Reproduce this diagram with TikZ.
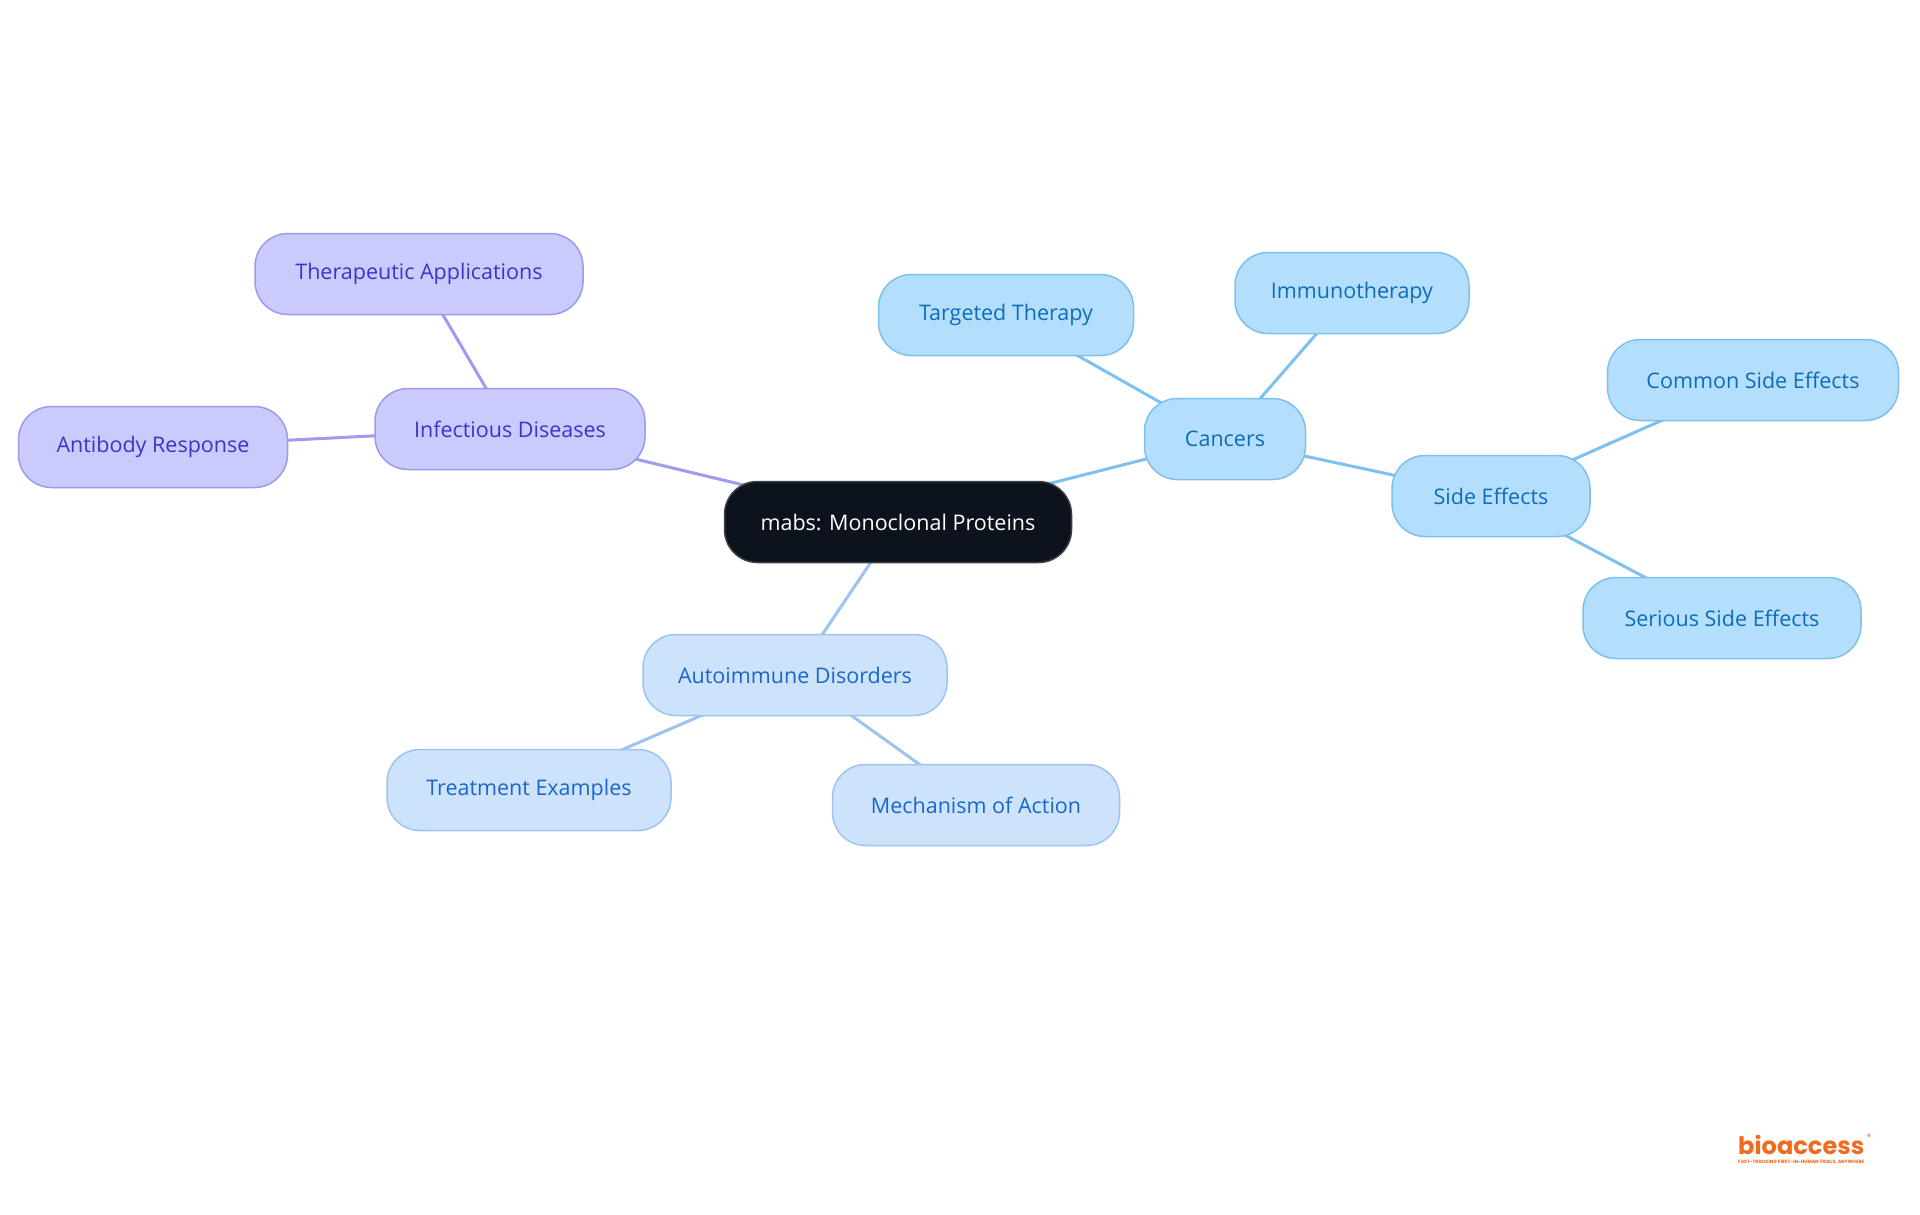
\documentclass[tikz,border=0pt]{standalone}
\usepackage{fontspec}
\setmainfont{Open Sans}
\newfontfamily\logofont{Poppins}
\usetikzlibrary{backgrounds}
\definecolor{rootfill}{HTML}{0D131C}
\definecolor{purfill}{HTML}{CACAFC}
\definecolor{purdraw}{HTML}{9B9BEE}
\definecolor{purtext}{HTML}{3A35C9}
\definecolor{purline}{HTML}{9C9CF0}
\definecolor{bluefill}{HTML}{B3DFFD}
\definecolor{bluedraw}{HTML}{7DC0EE}
\definecolor{bluetext}{HTML}{0F6CB8}
\definecolor{blueline}{HTML}{7EC1F0}
\definecolor{lbfill}{HTML}{CDE3FB}
\definecolor{lbdraw}{HTML}{9DC3EE}
\definecolor{lbtext}{HTML}{1A66CC}
\definecolor{lbline}{HTML}{9DC3EE}
\definecolor{logoorange}{HTML}{F26A1B}
\tikzset{
  x=1pt,y=-1pt,
  pill/.style={rounded corners=33pt, minimum height=81pt, inner sep=0pt, line width=1.5pt,
     font=\fontsize{21.5}{25}\selectfont},
  rootnode/.style={pill, fill=rootfill, draw=rootfill!80!white, text=white},
  purnode/.style={pill, fill=purfill, draw=purdraw, text=purtext},
  bluenode/.style={pill, fill=bluefill, draw=bluedraw, text=bluetext},
  lbnode/.style={pill, fill=lbfill, draw=lbdraw, text=lbtext},
  edge/.style={line width=3pt}
}
\begin{document}
\begin{tikzpicture}
\useasboundingbox (0,0) rectangle (1920,1215);
\node[rootnode, minimum width=347pt] (root) at (898,522) {mabs: Monoclonal Proteins};
\node[purnode, minimum width=270pt] (inf) at (510,429) {Infectious Diseases};
\node[purnode, minimum width=328pt] (ther) at (419,274) {Therapeutic Applications};
\node[purnode, minimum width=269pt] (anti) at (153,447) {Antibody Response};
\node[bluenode, minimum width=161pt] (canc) at (1225,439) {Cancers};
\node[bluenode, minimum width=255pt] (targ) at (1006,315) {Targeted Therapy};
\node[bluenode, minimum width=234pt] (immu) at (1352,293) {Immunotherapy};
\node[bluenode, minimum width=198pt] (side) at (1491,496) {Side Effects};
\node[bluenode, minimum width=291pt] (comm) at (1753,380) {Common Side Effects};
\node[bluenode, minimum width=278pt] (seri) at (1722,618) {Serious Side Effects};
\node[lbnode, minimum width=304pt] (auto) at (795,675) {Autoimmune Disorders};
\node[lbnode, minimum width=284pt] (trea) at (529,790) {Treatment Examples};
\node[lbnode, minimum width=287pt] (mech) at (976,805) {Mechanism of Action};
\begin{scope}[on background layer]
\fill[white] (0,0) rectangle (1920,1215);
\draw[edge, purline] (root.center) -- (inf.center);
\draw[edge, purline] (inf.center) -- (ther.center);
\draw[edge, purline] (inf.center) -- (anti.center);
\draw[edge, blueline] (root.center) -- (canc.center);
\draw[edge, blueline] (canc.center) -- (targ.center);
\draw[edge, blueline] (canc.center) -- (immu.center);
\draw[edge, blueline] (canc.center) -- (side.center);
\draw[edge, blueline] (side.center) -- (comm.center);
\draw[edge, blueline] (side.center) -- (seri.center);
\draw[edge, lbline] (root.center) -- (auto.center);
\draw[edge, lbline] (auto.center) -- (trea.center);
\draw[edge, lbline] (auto.center) -- (mech.center);
\end{scope}
\node[inner sep=0pt, anchor=west, text=logoorange] (logo) at (1738,1145)
  {\resizebox{126pt}{!}{\logofont\bfseries bioaccess}};
\node[inner sep=0pt, anchor=west, text=logoorange] (reg) at ([xshift=2pt,yshift=-2pt]logo.north east)
  {\logofont\fontsize{9}{9}\selectfont\textregistered};
\node[inner sep=0pt, anchor=north west, text=logoorange] (tag) at ([yshift=-5pt]logo.south west)
  {\resizebox{126pt}{!}{\logofont\bfseries FAST-TRACKING FIRST-IN-HUMAN TRIALS, ANYWHERE}};
\end{tikzpicture}
\end{document}
